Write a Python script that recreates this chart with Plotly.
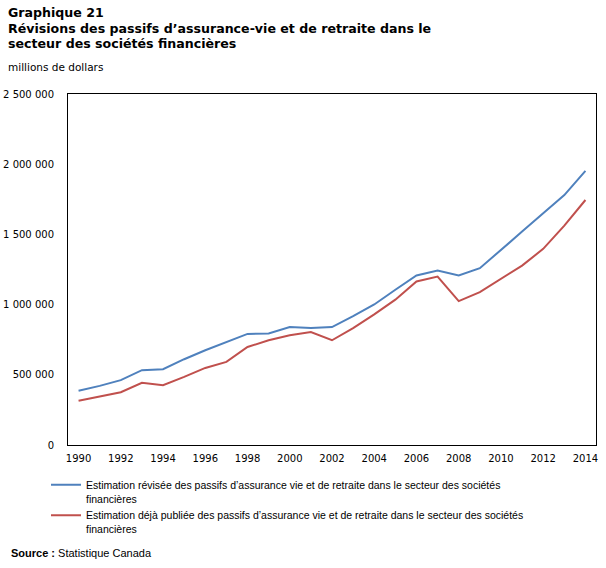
import plotly.graph_objects as go

years = list(range(1990, 2015))
revised = [386000, 421000, 462000, 533000, 540000, 611000, 675000, 734000, 791000, 795000,
           840000, 833000, 840000, 918000, 1001000, 1106000, 1207000, 1243000, 1207000, 1259000,
           1392000, 1520000, 1650000, 1780000, 1953000]
published = [315000, 348000, 376000, 443000, 426000, 485000, 549000, 592000, 698000, 746000,
             781000, 805000, 746000, 833000, 930000, 1035000, 1165000, 1200000, 1025000, 1089000,
             1184000, 1278000, 1397000, 1563000, 1745000]
y_ticks = [0, 500000, 1000000, 1500000, 2000000, 2500000]
y_tick_labels = ["0", "500 000", "1 000 000", "1 500 000", "2 000 000", "2 500 000"]
x_ticks = list(range(1990, 2015, 2))

name_rev = "Estimation révisée des passifs d’assurance vie et de retraite dans le secteur des sociétés<br>financières"
name_pub = "Estimation déjà publiée des passifs d’assurance vie et de retraite dans le secteur des sociétés<br>financières"

FONT = "DejaVu Sans"
FONT2 = "Liberation Sans"
W, H = 606, 568
L, R, T, B = 68, 596, 94, 445

def px(x):
    return (x - L) / (R - L)

def py(y):
    return (B - y) / (B - T)

fig = go.Figure()
fig.add_trace(go.Scatter(x=years, y=revised, mode="lines", name=name_rev,
                         line=dict(color="#4F81BD", width=2)))
fig.add_trace(go.Scatter(x=years, y=published, mode="lines", name=name_pub,
                         line=dict(color="#C0504D", width=2)))

fig.update_layout(
    width=W, height=H,
    margin=dict(l=L, r=W - R, t=T, b=H - B, pad=0, autoexpand=False),
    paper_bgcolor="white", plot_bgcolor="white",
    font=dict(family=FONT, size=10, color="black"),
    showlegend=True,
    legend=dict(x=px(46), y=py(471.5), xanchor="left", yanchor="top", valign="top",
                font=dict(family=FONT2, size=10.5, color="black"),
                bgcolor="rgba(0,0,0,0)", borderwidth=0, tracegroupgap=0,
                itemwidth=30),
    xaxis=dict(range=[1989.5, 2014.5], tickvals=x_ticks, ticktext=[str(v) for v in x_ticks],
               showgrid=False, zeroline=False, showline=True, linecolor="black", linewidth=1,
               mirror=True, ticks="", automargin=False, ticklabelstandoff=4,
               tickfont=dict(size=10, color="black", family=FONT)),
    yaxis=dict(range=[0, 2500000], tickvals=y_ticks, ticktext=y_tick_labels,
               showgrid=False, zeroline=False, showline=True, linecolor="black", linewidth=1,
               mirror=True, ticks="", ticklabelstandoff=11, automargin=False,
               tickfont=dict(size=10, color="black", family=FONT)),
)

title_lines = ["Graphique 21",
               "Révisions des passifs d’assurance-vie et de retraite dans le",
               "secteur des sociétés financières"]
title_y = [12.5, 28, 43.5]
for t, yy in zip(title_lines, title_y):
    fig.add_annotation(text="<b>" + t + "</b>", xref="paper", yref="paper",
                       x=px(6), y=py(yy), xanchor="left", yanchor="middle",
                       showarrow=False, font=dict(family=FONT, size=12.6, color="black"))

fig.add_annotation(text="millions de dollars", xref="paper", yref="paper",
                   x=px(6), y=py(67.5), xanchor="left", yanchor="middle",
                   showarrow=False, font=dict(family=FONT, size=10.5, color="black"))
fig.add_annotation(text="<b>Source :</b> Statistique Canada", xref="paper", yref="paper",
                   x=px(9), y=py(553), xanchor="left", yanchor="middle",
                   showarrow=False, font=dict(family=FONT2, size=11, color="black"))

fig.write_html("out.html")
